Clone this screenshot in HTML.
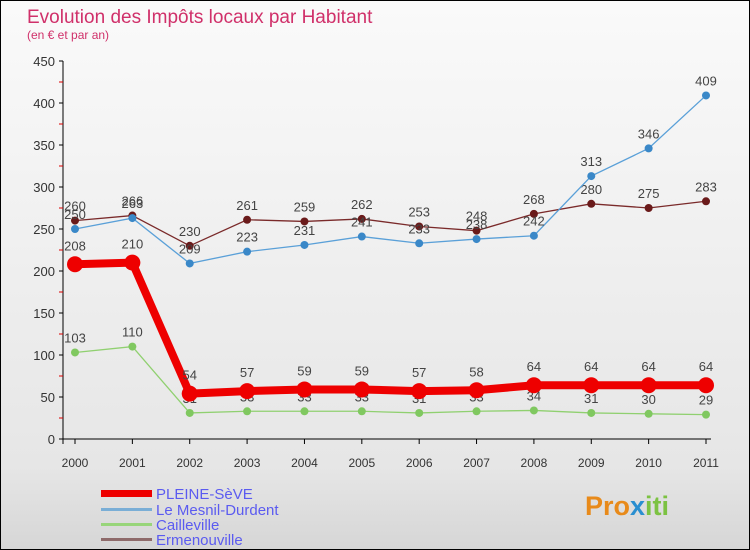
<!DOCTYPE html>
<html><head><meta charset="utf-8"><style>
body{margin:0;width:750px;height:550px;overflow:hidden;font-family:"Liberation Sans",sans-serif}
#wrap{position:relative;width:748px;height:548px;border:1px solid #000;background:linear-gradient(#fafafa,#e6e6e6 85%,#d6d6d6)}
</style></head><body>
<div id="wrap">
<svg id="chart" width="748" height="548" style="position:absolute;left:0;top:0">
<text x="26" y="22" font-size="19" fill="#d0306a">Evolution des Impôts locaux par Habitant</text>
<text x="26" y="38" font-size="12" fill="#d0306a">(en € et par an)</text>
<g id="axes"></g><g id="series"></g>
<g>
<rect x="100" y="489" width="51" height="7" fill="#ee0000"/>
<rect x="100" y="507" width="51" height="3" fill="#7aaed6"/>
<rect x="100" y="522" width="51" height="3" fill="#98d57a"/>
<rect x="100" y="537" width="51" height="3" fill="#8e6a6a"/>
<g font-size="15" fill="#5b5bf0">
<text x="155" y="498">PLEINE-SèVE</text>
<text x="155" y="514">Le Mesnil-Durdent</text>
<text x="155" y="529">Cailleville</text>
<text x="155" y="544">Ermenouville</text>
</g></g>
<text x="584" y="514" font-size="27" font-weight="bold" fill="#e88a1a">Pro<tspan fill="#2a8fd0">x</tspan><tspan fill="#7cc242">iti</tspan></text>
</svg>
</div>
<script>
const years=["2000","2001","2002","2003","2004","2005","2006","2007","2008","2009","2010","2011"];
const yTicks=[0,50,100,150,200,250,300,350,400,450];
const pleine=[208,210,54,57,59,59,57,58,64,64,64,64];
const mesnil=[250,263,209,223,231,241,233,238,242,313,346,409];
const caille=[103,110,31,33,33,33,31,33,34,31,30,29];
const ermen=[260,266,230,261,259,262,253,248,268,280,275,283];
const NS="http://www.w3.org/2000/svg";
const X=i=>74+i*(631/11);
const Y=v=>438-v*(378/450);
function mk(t,a,p){const e=document.createElementNS(NS,t);for(const k in a)e.setAttribute(k,a[k]);p.appendChild(e);return e;}
const ax=document.getElementById('axes');
const yl=mk('line',{x1:62,x2:62,y1:Y(450),y2:Y(0)+5,stroke:'#000'},ax);


const xl=mk('line',{x1:62,x2:X(11)+5,y1:Y(0),y2:Y(0),stroke:'#000'},ax);


yTicks.forEach(v=>{
 mk('line',{x1:58,x2:62,y1:Y(v),y2:Y(v),stroke:'#000'},ax);
 if(v<450)mk('line',{x1:58,x2:62,y1:Y(v+25),y2:Y(v+25),stroke:'#d00'},ax);
 const t=mk('text',{x:54,y:Y(v)+5,'text-anchor':'end','font-size':13,fill:'#333'},ax);
 t.textContent=v;
 
 
});
years.forEach((y,i)=>{
 mk('line',{x1:X(i),x2:X(i),y1:Y(0),y2:Y(0)+5,stroke:'#000'},ax);
 const t=mk('text',{x:X(i),y:466,'text-anchor':'middle','font-size':12,fill:'#333'},ax);
 t.textContent=y;
 
 
});
const sg=document.getElementById('series');
function series(name,data,color,lw,r,dot,labelAbove){
 const g=mk('g',{},sg);
 
 
 mk('polyline',{points:data.map((v,i)=>X(i)+','+Y(v)).join(' '),fill:'none',stroke:color,'stroke-width':lw},g);
 data.forEach((v,i)=>{
  const c=mk('circle',{cx:X(i),cy:Y(v),r:r,fill:dot},g);
  
  
  const t=mk('text',{x:X(i),y:Y(v)-(r+6),'text-anchor':'middle','font-size':13,fill:'#444'},g);
  t.textContent=v;
  
  
 });
}
series('ermenouville',ermen,'#7a2a2a',1.3,4,'#6a1a1a');
series('mesnil',mesnil,'#5aa0d8',1.3,4,'#3a88c8');
series('cailleville',caille,'#90d070',1.3,4,'#80c860');
series('pleine-seve',pleine,'#ee0000',8,8,'#ee0000');
</script>
</body></html>
